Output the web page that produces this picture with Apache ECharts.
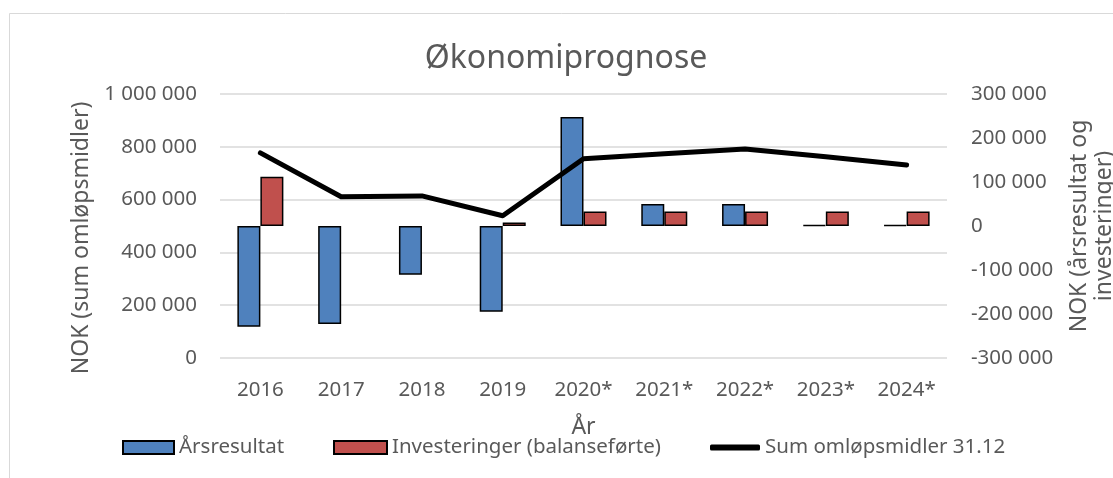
<!DOCTYPE html>
<html>
<head>
<meta charset="utf-8">
<script src="https://cdn.jsdelivr.net/npm/echarts@6/dist/echarts.min.js"></script>
<style>
  html, body { margin: 0; padding: 0; background: #fff; }
  #chart { width: 1113px; height: 478px; }
</style>
</head>
<body>
<div id="chart"></div>
<script>
// data
var years = ['2016', '2017', '2018', '2019', '2020*', '2021*', '2022*', '2023*', '2024*'];
var aarsresultat = [-229000, -223000, -111000, -195000, 248000, 50000, 50000, 2000, 2000];
var investeringer = [112000, null, null, 8000, 33000, 33000, 33000, 33000, 33000];
var omlopsmidler = [777000, 611000, 614000, 539000, 755000, 774000, 792000, 762000, 731000];

var font = 'Noto Sans';
var grey = '#595959';

function nok(v) {
  return String(v).replace(/\B(?=(\d{3})+(?!\d))/g, ' ');
}

var myChart = echarts.init(document.getElementById('chart'));

var legendBase = {
  orient: 'horizontal',
  top: 437,
  padding: 0,
  itemGap: 0,
  textStyle: { fontFamily: font, fontSize: 20.5, color: grey }
};

var option = {
  animation: false,
  backgroundColor: '#fff',
  graphic: [{
    type: 'rect',
    shape: { x: 9.5, y: 13.5, width: 1200, height: 600 },
    style: { fill: 'none', stroke: '#d9d9d9', lineWidth: 1 },
    silent: true
  }],
  title: {
    text: 'Økonomiprognose',
    left: 566,
    top: 43,
    padding: 0,
    textAlign: 'center',
    textStyle: { fontFamily: font, fontSize: 32, fontWeight: 'normal', color: grey }
  },
  legend: [
    Object.assign({}, legendBase, { left: 122, data: ['Årsresultat'], itemWidth: 51, itemHeight: 13, icon: 'rect' }),
    Object.assign({}, legendBase, { left: 333, data: ['Investeringer (balanseførte)'], itemWidth: 53, itemHeight: 13, icon: 'rect' }),
    Object.assign({}, legendBase, { left: 710, data: ['Sum omløpsmidler 31.12'], itemWidth: 50, itemHeight: 6, icon: 'roundRect' })
  ],
  grid: { left: 220, right: 166, top: 94, bottom: 120, containLabel: false, outerBoundsMode: 'none' },
  xAxis: {
    type: 'category',
    data: years,
    name: 'År',
    nameLocation: 'middle',
    nameGap: 58,
    nameTextStyle: { fontFamily: font, fontSize: 23, color: grey },
    axisLine: { show: false },
    axisTick: { show: false },
    axisLabel: { fontFamily: font, fontSize: 20.5, color: grey, margin: 22, interval: 0 }
  },
  yAxis: [
    {
      type: 'value',
      position: 'left',
      min: 0,
      max: 1000000,
      interval: 200000,
      name: 'NOK (sum omløpsmidler)',
      nameLocation: 'middle',
      nameRotate: 90,
      nameGap: 118,
      nameTextStyle: { fontFamily: font, fontSize: 23, color: grey, padding: [0, 24, 0, 0] },
      axisLine: { show: false },
      axisTick: { show: false },
      axisLabel: { fontFamily: font, fontSize: 20.5, color: grey, margin: 23, formatter: nok },
      splitLine: { lineStyle: { color: '#d9d9d9', width: 1.5 } }
    },
    {
      type: 'value',
      position: 'right',
      min: -300000,
      max: 300000,
      interval: 100000,
      name: 'NOK (årsresultat og\ninvesteringer)',
      nameLocation: 'middle',
      nameRotate: 90,
      nameGap: 120,
      nameTextStyle: { fontFamily: font, fontSize: 23, color: grey, lineHeight: 25 },
      axisLine: { show: false },
      axisTick: { show: false },
      axisLabel: { fontFamily: font, fontSize: 20.5, color: grey, margin: 24, formatter: nok },
      splitLine: { show: false }
    }
  ],
  series: [
    {
      name: 'Årsresultat',
      type: 'bar',
      yAxisIndex: 1,
      data: aarsresultat,
      barWidth: 23,
      barGap: '0%',
      itemStyle: { color: '#4f81bd', borderColor: '#000', borderWidth: 1.5 }
    },
    {
      name: 'Investeringer (balanseførte)',
      type: 'bar',
      yAxisIndex: 1,
      data: investeringer,
      barWidth: 23,
      barGap: '0%',
      itemStyle: { color: '#c0504d', borderColor: '#000', borderWidth: 1.5 }
    },
    {
      name: 'Sum omløpsmidler 31.12',
      type: 'line',
      yAxisIndex: 0,
      data: omlopsmidler,
      showSymbol: false,
      symbol: 'none',
      z: 5,
      itemStyle: { color: '#000' },
      lineStyle: { color: '#000', width: 5, cap: 'round', join: 'round' }
    }
  ]
};

myChart.setOption(option);
</script>
</body>
</html>
